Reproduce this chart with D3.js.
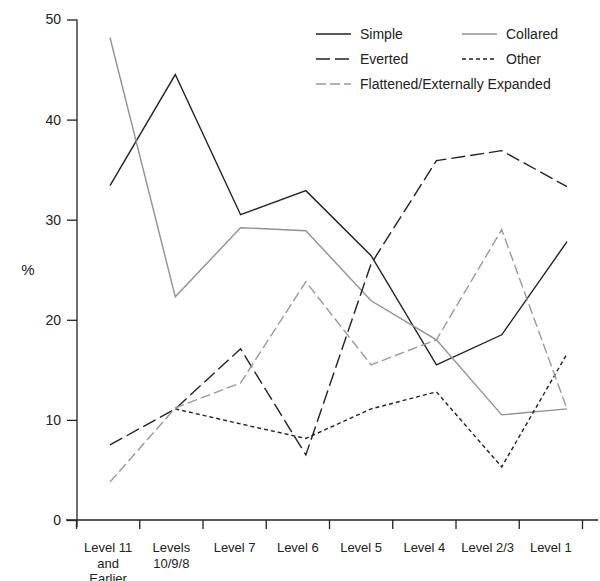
<!DOCTYPE html>
<html><head><meta charset="utf-8">
<script src="https://cdn.jsdelivr.net/npm/d3@7"></script>
<style>body{margin:0;background:#fff}svg{display:block;font-family:"Liberation Sans",Arial,sans-serif}</style>
</head><body><svg id="c" width="600" height="581"></svg>
<script>
const categories = ["Level 11|and|Earlier","Levels|10/9/8","Level 7","Level 6","Level 5","Level 4","Level 2/3","Level 1"];
const simple    = [33.4, 44.5, 30.5, 32.9, 26.4, 15.5, 18.5, 27.8];
const collared  = [48.2, 22.3, 29.2, 28.9, 21.9, 18.0, 10.5, 11.1];
const everted   = [7.5, 11.1, 17.1, 6.5, 25.6, 35.9, 36.9, 33.3];
const other     = [null, 11.1, 9.6, 8.15, 11.1, 12.8, 5.3, 16.6];
const flattened = [3.8, 11.2, 13.7, 23.8, 15.5, 18.0, 29.0, 11.1];
const yTicks = [0,10,20,30,40,50];

const series = [
  {name:"Simple", values:simple, color:"#222", dash:null, lx:316, ly:34},
  {name:"Collared", values:collared, color:"#929292", dash:null, lx:462, ly:34},
  {name:"Everted", values:everted, color:"#222", dash:"14,5", lx:316, ly:59},
  {name:"Other", values:other, color:"#222", dash:"4,3", lx:462, ly:59},
  {name:"Flattened/Externally Expanded", values:flattened, color:"#9a9a9a", dash:"10,4", lx:316, ly:84}
];

const svg = d3.select("#c");
const y = d3.scaleLinear().domain([0,50]).range([520,19.5]);
const xb = d3.scaleBand().domain(categories).range([76.5,582.5]);
const xp = d3.scalePoint().domain(categories).range([110,567]);

// y axis
const ya = svg.append("g").attr("transform","translate(77,0)")
  .call(d3.axisLeft(y).tickValues(yTicks).tickSize(10).tickPadding(6).tickSizeOuter(0));
ya.select(".domain").attr("d","M0,19.5V527");
ya.selectAll("line,path").attr("stroke","#222").attr("stroke-width",1.3);
ya.selectAll("text").attr("font-size",14).attr("fill","#222").attr("font-family","Liberation Sans, Arial, sans-serif");

// x axis
const xa = svg.append("g").attr("transform","translate(0,520)")
  .call(d3.axisBottom(xb).tickSize(0).tickFormat(""));
xa.select(".domain").attr("d","M66,0H598").attr("stroke","#222").attr("stroke-width",1.3);
const tickPos = categories.map(c=>xb(c)).concat([xb.range()[1]]);
svg.append("g").selectAll("line").data(tickPos).join("line")
  .attr("x1",d=>d).attr("x2",d=>d).attr("y1",520).attr("y2",529)
  .attr("stroke","#222").attr("stroke-width",1.3);
const lab = svg.append("g").selectAll("text").data(categories).join("text")
  .attr("x",d=>xb(d)+xb.bandwidth()/2).attr("y",552)
  .attr("text-anchor","middle").attr("font-size",13).attr("fill","#222");
lab.each(function(d){
  const t=d3.select(this);
  d.split("|").forEach((s,i)=>t.append("tspan").attr("x",xb(d)+xb.bandwidth()/2).attr("dy",i?15.5:0).text(s));
});

svg.append("text").attr("x",28).attr("y",275).attr("text-anchor","middle")
  .attr("font-size",15).attr("fill","#222").text("%");

// lines
const line = d3.line().defined(d=>d.v!=null).x(d=>xp(d.c)).y(d=>y(d.v));
series.forEach(s=>{
  const pts = categories.map((c,i)=>({c, v:s.values[i]}));
  svg.append("path").attr("d",line(pts)).attr("fill","none")
    .attr("stroke",s.color).attr("stroke-width",1.4)
    .attr("stroke-dasharray",s.dash);
  svg.append("line").attr("x1",s.lx).attr("x2",s.lx+35).attr("y1",s.ly).attr("y2",s.ly)
    .attr("stroke",s.color).attr("stroke-width",1.4).attr("stroke-dasharray",s.dash);
  svg.append("text").attr("x",s.lx+44).attr("y",s.ly+5).attr("font-size",14)
    .attr("fill","#222").text(s.name);
});
</script></body></html>
